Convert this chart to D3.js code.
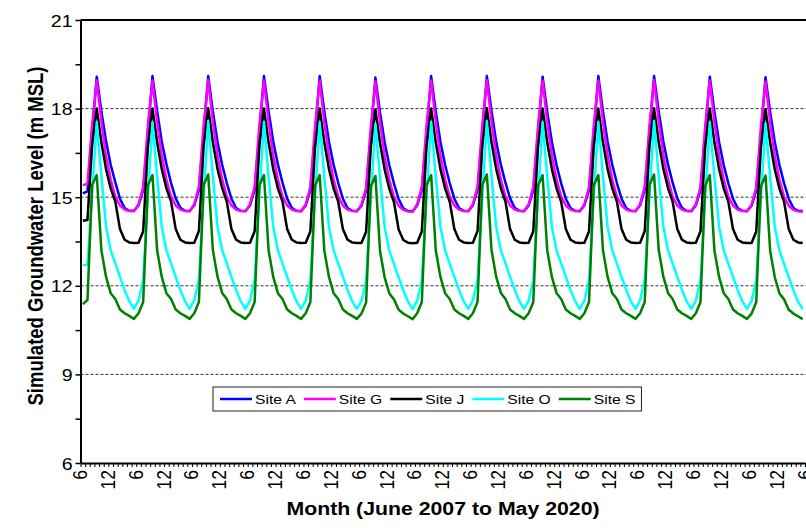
<!DOCTYPE html>
<html>
<head>
<meta charset="utf-8">
<script src="https://cdn.jsdelivr.net/npm/d3@7"></script>
<style>
  html, body { margin: 0; padding: 0; background: #fff; }
  svg { display: block; }
  text { font-family: "Liberation Sans", Arial, sans-serif; fill: #000; }
</style>
</head>
<body>
<svg id="chart" width="806" height="528"></svg>
<script>
// Hydrological years, June to May
const seasons = ["2007-08","2008-09","2009-10","2010-11","2011-12","2012-13","2013-14",
                 "2014-15","2015-16","2016-17","2017-18","2018-19","2019-20"];
const monthNumbers = [6, 7, 8, 9, 10, 11, 12, 1, 2, 3, 4, 5];

// Simulated groundwater level (m MSL), one row per season, Jun..May
const siteA = [
  [15.13, 15.20, 17.20, 19.08, 17.90, 16.90, 16.10, 15.50, 14.95, 14.63, 14.54, 14.54],
  [14.72, 15.25, 17.15, 19.10, 17.92, 16.88, 16.12, 15.48, 14.96, 14.64, 14.54, 14.53],
  [14.73, 15.26, 17.16, 19.10, 17.90, 16.88, 16.10, 15.48, 14.95, 14.63, 14.54, 14.53],
  [14.72, 15.25, 17.15, 19.10, 17.91, 16.89, 16.11, 15.49, 14.95, 14.64, 14.54, 14.53],
  [14.72, 15.24, 17.14, 19.10, 17.90, 16.88, 16.10, 15.48, 14.95, 14.63, 14.54, 14.53],
  [14.71, 15.22, 17.10, 19.05, 17.86, 16.85, 16.08, 15.46, 14.94, 14.62, 14.53, 14.52],
  [14.72, 15.25, 17.15, 19.10, 17.90, 16.88, 16.10, 15.48, 14.95, 14.63, 14.54, 14.53],
  [14.73, 15.26, 17.16, 19.10, 17.91, 16.89, 16.11, 15.49, 14.96, 14.64, 14.54, 14.53],
  [14.72, 15.24, 17.14, 19.08, 17.89, 16.87, 16.09, 15.47, 14.95, 14.63, 14.54, 14.53],
  [14.72, 15.25, 17.15, 19.10, 17.90, 16.88, 16.10, 15.48, 14.95, 14.63, 14.54, 14.53],
  [14.73, 15.26, 17.16, 19.10, 17.91, 16.89, 16.11, 15.49, 14.96, 14.64, 14.54, 14.53],
  [14.72, 15.24, 17.14, 19.08, 17.89, 16.87, 16.09, 15.47, 14.95, 14.63, 14.54, 14.53],
  [14.71, 15.23, 17.12, 19.06, 17.88, 16.86, 16.09, 15.47, 14.95, 14.63, 14.54, 14.53]
];
const siteG = [
  [15.41, 15.45, 17.45, 18.95, 17.55, 16.40, 15.60, 15.02, 14.72, 14.58, 14.53, 14.52],
  [14.76, 15.35, 17.40, 18.95, 17.55, 16.40, 15.60, 15.02, 14.72, 14.58, 14.53, 14.52],
  [14.77, 15.36, 17.41, 18.97, 17.56, 16.41, 15.61, 15.02, 14.72, 14.58, 14.53, 14.52],
  [14.76, 15.35, 17.40, 18.95, 17.55, 16.40, 15.60, 15.02, 14.72, 14.58, 14.53, 14.52],
  [14.76, 15.34, 17.39, 18.95, 17.54, 16.40, 15.60, 15.02, 14.72, 14.58, 14.53, 14.52],
  [14.75, 15.32, 17.36, 18.92, 17.52, 16.38, 15.58, 15.01, 14.71, 14.57, 14.52, 14.51],
  [14.76, 15.35, 17.40, 18.95, 17.55, 16.40, 15.60, 15.02, 14.72, 14.58, 14.53, 14.52],
  [14.77, 15.36, 17.41, 18.96, 17.56, 16.41, 15.61, 15.02, 14.72, 14.58, 14.53, 14.52],
  [14.76, 15.34, 17.39, 18.95, 17.54, 16.40, 15.60, 15.02, 14.72, 14.58, 14.53, 14.52],
  [14.76, 15.35, 17.40, 18.95, 17.55, 16.40, 15.60, 15.02, 14.72, 14.58, 14.53, 14.52],
  [14.77, 15.36, 17.41, 18.97, 17.56, 16.41, 15.61, 15.02, 14.72, 14.58, 14.53, 14.52],
  [14.76, 15.34, 17.39, 18.95, 17.54, 16.40, 15.60, 15.02, 14.72, 14.58, 14.53, 14.52],
  [14.75, 15.33, 17.37, 18.92, 17.53, 16.39, 15.59, 15.01, 14.71, 14.57, 14.52, 14.51]
];
const siteJ = [
  [14.20, 14.23, 16.75, 18.00, 16.85, 15.95, 15.30, 14.85, 13.92, 13.56, 13.47, 13.45],
  [13.46, 13.85, 16.70, 18.00, 16.85, 15.95, 15.30, 14.85, 13.92, 13.56, 13.47, 13.45],
  [13.46, 13.86, 16.71, 18.01, 16.86, 15.96, 15.31, 14.85, 13.92, 13.56, 13.47, 13.45],
  [13.46, 13.85, 16.70, 18.00, 16.85, 15.95, 15.30, 14.85, 13.92, 13.56, 13.47, 13.45],
  [13.46, 13.85, 16.69, 18.00, 16.85, 15.95, 15.30, 14.84, 13.92, 13.56, 13.47, 13.45],
  [13.45, 13.83, 16.66, 17.97, 16.83, 15.93, 15.28, 14.83, 13.91, 13.55, 13.46, 13.44],
  [13.46, 13.85, 16.70, 18.00, 16.85, 15.95, 15.30, 14.85, 13.92, 13.56, 13.47, 13.45],
  [13.46, 13.86, 16.71, 18.01, 16.86, 15.96, 15.31, 14.85, 13.92, 13.56, 13.47, 13.45],
  [13.46, 13.85, 16.69, 18.00, 16.85, 15.95, 15.30, 14.84, 13.92, 13.56, 13.47, 13.45],
  [13.46, 13.85, 16.70, 18.00, 16.85, 15.95, 15.30, 14.85, 13.92, 13.56, 13.47, 13.45],
  [13.46, 13.86, 16.71, 18.01, 16.86, 15.96, 15.31, 14.85, 13.92, 13.56, 13.47, 13.45],
  [13.46, 13.85, 16.69, 18.00, 16.85, 15.95, 15.30, 14.84, 13.92, 13.56, 13.47, 13.45],
  [13.45, 13.84, 16.67, 17.98, 16.84, 15.94, 15.29, 14.84, 13.92, 13.56, 13.47, 13.45]
];
const siteO = [
  [12.70, 12.72, 15.10, 17.55, 15.70, 14.00, 13.20, 12.75, 12.30, 11.86, 11.48, 11.22],
  [11.50, 12.20, 15.00, 17.55, 15.70, 14.00, 13.20, 12.75, 12.30, 11.86, 11.48, 11.22],
  [11.51, 12.21, 15.02, 17.58, 15.72, 14.01, 13.21, 12.76, 12.30, 11.86, 11.48, 11.22],
  [11.50, 12.20, 15.00, 17.55, 15.70, 14.00, 13.20, 12.75, 12.30, 11.86, 11.48, 11.22],
  [11.50, 12.19, 14.98, 17.54, 15.69, 14.00, 13.20, 12.75, 12.30, 11.86, 11.48, 11.22],
  [11.49, 12.16, 14.92, 17.48, 15.65, 13.98, 13.18, 12.74, 12.29, 11.85, 11.47, 11.21],
  [11.50, 12.20, 15.00, 17.55, 15.70, 14.00, 13.20, 12.75, 12.30, 11.86, 11.48, 11.22],
  [11.51, 12.21, 15.02, 17.58, 15.72, 14.01, 13.21, 12.76, 12.30, 11.86, 11.48, 11.22],
  [11.50, 12.19, 14.98, 17.54, 15.69, 14.00, 13.20, 12.75, 12.30, 11.86, 11.48, 11.22],
  [11.50, 12.20, 15.00, 17.55, 15.70, 14.00, 13.20, 12.75, 12.30, 11.86, 11.48, 11.22],
  [11.51, 12.21, 15.02, 17.58, 15.72, 14.01, 13.21, 12.76, 12.30, 11.86, 11.48, 11.22],
  [11.50, 12.19, 14.98, 17.54, 15.69, 14.00, 13.20, 12.75, 12.30, 11.86, 11.48, 11.22],
  [11.49, 12.17, 14.95, 17.50, 15.67, 13.99, 13.19, 12.74, 12.29, 11.85, 11.47, 11.21]
];
const siteS = [
  [11.38, 11.52, 15.41, 15.75, 13.20, 12.30, 11.75, 11.55, 11.20, 11.07, 10.98, 10.88],
  [11.07, 11.45, 15.40, 15.75, 13.20, 12.30, 11.75, 11.55, 11.20, 11.07, 10.98, 10.88],
  [11.07, 11.46, 15.41, 15.77, 13.21, 12.31, 11.76, 11.55, 11.20, 11.07, 10.98, 10.88],
  [11.07, 11.45, 15.40, 15.75, 13.20, 12.30, 11.75, 11.55, 11.20, 11.07, 10.98, 10.88],
  [11.07, 11.45, 15.39, 15.75, 13.19, 12.30, 11.75, 11.55, 11.20, 11.07, 10.98, 10.88],
  [11.06, 11.43, 15.36, 15.72, 13.17, 12.28, 11.74, 11.54, 11.19, 11.06, 10.97, 10.87],
  [11.07, 11.45, 15.40, 15.75, 13.20, 12.30, 11.75, 11.55, 11.20, 11.07, 10.98, 10.88],
  [11.07, 11.46, 15.41, 15.77, 13.21, 12.31, 11.76, 11.55, 11.20, 11.07, 10.98, 10.88],
  [11.07, 11.45, 15.39, 15.75, 13.19, 12.30, 11.75, 11.55, 11.20, 11.07, 10.98, 10.88],
  [11.07, 11.45, 15.40, 15.75, 13.20, 12.30, 11.75, 11.55, 11.20, 11.07, 10.98, 10.88],
  [11.07, 11.46, 15.41, 15.77, 13.21, 12.31, 11.76, 11.55, 11.20, 11.07, 10.98, 10.88],
  [11.07, 11.45, 15.39, 15.75, 13.19, 12.30, 11.75, 11.55, 11.20, 11.07, 10.98, 10.88],
  [11.06, 11.44, 15.37, 15.73, 13.18, 12.29, 11.74, 11.54, 11.19, 11.06, 10.97, 10.87]
];

const seriesNames  = ["Site A", "Site G", "Site J", "Site O", "Site S"];
const seriesColors = ["#0000ff", "#ff00ff", "#000000", "#00ffff", "#008000"];

// Axis labels
const xTickLabels = ["6","12","6","12","6","12","6","12","6","12","6","12","6","12",
                     "6","12","6","12","6","12","6","12","6","12","6","12","6"];
const yMajorTicks = [6, 9, 12, 15, 18, 21];
const yMinorTicks = [7.5, 10.5, 13.5, 16.5, 19.5];
const yGridValues = [9, 12, 15, 18];
const xTitle = "Month (June 2007 to May 2020)";
const yTitle = "Simulated Groundwater Level (m MSL)";

// Flatten season rows into one monthly sequence per site
const months = seasons.flatMap(s => monthNumbers.map(m => s + "/" + m));
const series = [siteA, siteG, siteJ, siteO, siteS].map((rows, k) => ({
  name: seriesNames[k], color: seriesColors[k], values: rows.flat()
}));

const svg = d3.select("#chart");
const plot = { left: 80.5, right: 805, top: 20, bottom: 463 };
const STRETCH = 1.15;   // text is drawn slightly wide

const x = d3.scaleBand().domain(months).range([plot.left, plot.right]).padding(0);
const xEdge = d3.scaleLinear().domain([0, months.length]).range([plot.left, plot.right]);
const y = d3.scaleLinear().domain([6, 21]).range([plot.bottom, plot.top]);

// Dashed gridlines
svg.append("g").selectAll("line").data(yGridValues).join("line")
  .attr("x1", plot.left).attr("x2", 806)
  .attr("y1", d => y(d)).attr("y2", d => y(d))
  .attr("stroke", "#333").attr("stroke-width", 1).attr("stroke-dasharray", "3,2");

// Top border of the plot area
svg.append("line").attr("x1", plot.left).attr("x2", 806)
  .attr("y1", plot.top).attr("y2", plot.top)
  .attr("stroke", "#000").attr("stroke-width", 2);

// Series lines
const line = d3.line()
  .x((d, i) => x(months[i]) + x.bandwidth() / 2)
  .y(d => y(d));
svg.append("g").selectAll("path").data(series).join("path")
  .attr("d", d => line(d.values))
  .attr("fill", "none")
  .attr("stroke", d => d.color)
  .attr("stroke-width", 2.5)
  .attr("stroke-linejoin", "round");

// Y axis
const yAxis = d3.axisLeft(y)
  .tickValues(yMajorTicks.concat(yMinorTicks))
  .tickSize(5).tickSizeOuter(0)
  .tickFormat(d => yMajorTicks.includes(d) ? String(d) : "");
const gy = svg.append("g").attr("transform", `translate(${plot.left},0)`).call(yAxis);
gy.select(".domain").attr("stroke", "#000").attr("stroke-width", 2);
gy.selectAll(".tick line").attr("stroke", "#000").attr("stroke-width", 1.5);
gy.selectAll(".tick text")
  .attr("font-size", 17).attr("font-family", "Liberation Sans, Arial, sans-serif")
  .attr("x", null).attr("dy", null)
  .attr("text-anchor", "end")
  .attr("transform", `translate(-8,6) scale(${STRETCH},1)`);

// X axis: a tick at every month boundary, labels every six months
const xAxis = d3.axisBottom(xEdge)
  .tickValues(d3.range(months.length + 1))
  .tickSize(4).tickSizeOuter(0)
  .tickFormat(d => d % 6 === 0 ? xTickLabels[d / 6] : "");
const gx = svg.append("g").attr("transform", `translate(0,${plot.bottom})`).call(xAxis);
gx.select(".domain").attr("stroke", "#000").attr("stroke-width", 2);
gx.selectAll(".tick line").attr("stroke", "#000").attr("stroke-width", 1);
gx.selectAll(".tick text")
  .attr("font-size", 17.5).attr("font-family", "Liberation Sans, Arial, sans-serif")
  .attr("y", null).attr("dy", null)
  .attr("text-anchor", "end")
  .attr("transform", `translate(6,7) rotate(-90) scale(1,${STRETCH})`);

// Axis titles
svg.append("text")
  .attr("text-anchor", "middle")
  .attr("font-size", 18.5).attr("font-weight", "bold")
  .attr("transform", `translate(443,515) scale(${STRETCH},1)`)
  .text(xTitle);
svg.append("text")
  .attr("text-anchor", "middle")
  .attr("font-size", 18.5).attr("font-weight", "bold")
  .attr("transform", `translate(43,236) rotate(-90) scale(1,${STRETCH})`)
  .text(yTitle);

// Legend
const legend = svg.append("g").attr("transform", "translate(213,387)");
const legendBox = legend.append("rect")
  .attr("x", 0).attr("y", 0).attr("height", 24)
  .attr("fill", "#fff").attr("stroke", "#222").attr("stroke-width", 1);
let cursor = 7;
series.forEach(s => {
  const g = legend.append("g").attr("transform", `translate(${cursor},12)`);
  g.append("line").attr("x1", 0).attr("x2", 32).attr("y1", 0).attr("y2", 0)
    .attr("stroke", s.color).attr("stroke-width", 2.5);
  const t = g.append("text").attr("font-size", 13.6)
    .attr("transform", `translate(35,5) scale(${STRETCH},1)`)
    .text(s.name);
  const w = t.node().getComputedTextLength() * STRETCH;
  cursor += 35 + w + 8;
});
legendBox.attr("width", cursor - 2);
</script>
</body>
</html>
